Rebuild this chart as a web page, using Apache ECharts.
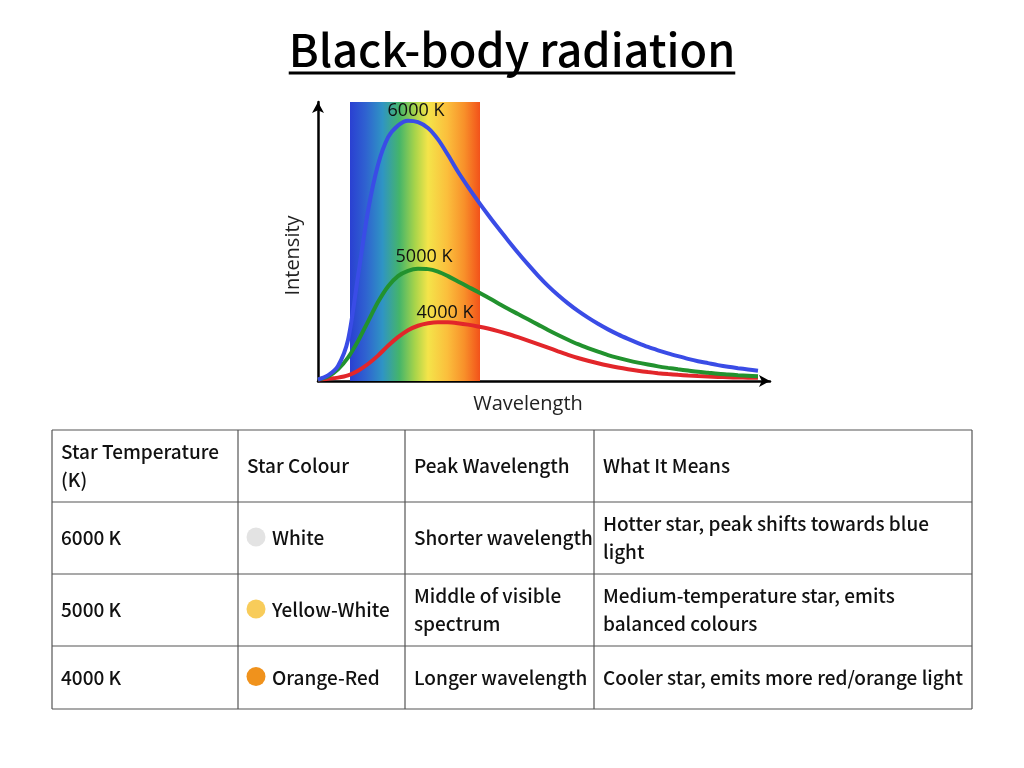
<!DOCTYPE html>
<html><head><meta charset="utf-8">
<script src="https://cdn.jsdelivr.net/npm/echarts@6/dist/echarts.min.js"></script>
<style>html,body{margin:0;padding:0;background:#fff}#c{width:1024px;height:768px}</style>
</head><body><div id="c"></div>
<script>
// ---------- data ----------
const titleText = 'Black-body radiation';
const wavelength = [270,300,330,360,390,420,450,480,510,540,570,600,630,660,690,720,750,780,810,840,870,900,930,960,990,1020,1050,1080,1110,1140,1170,1200,1230,1260,1290,1320,1350,1380,1410,1440,1470,1500,1530,1560,1590];
const intensity6000 = [0.5,2.0,5.4,14.7,37.6,61.0,77.5,87.3,91.6,93.3,92.8,90.7,86.6,81.0,75.0,69.6,64.5,59.6,54.9,50.4,46.0,41.8,37.8,34.1,30.8,27.8,25.1,22.7,20.5,18.5,16.7,15.1,13.6,12.2,11.0,9.9,8.9,7.95,7.1,6.4,5.7,5.1,4.6,4.15,3.7];
const intensity5000 = [0.5,1.6,4.2,8.4,14.3,21.3,28.3,33.9,37.6,39.5,40.2,40.1,39.2,37.6,35.7,33.8,31.9,29.9,27.9,25.9,24.0,22.1,20.2,18.3,16.5,14.8,13.2,11.8,10.5,9.3,8.3,7.4,6.6,5.9,5.25,4.7,4.2,3.75,3.3,2.95,2.6,2.35,2.1,1.9,1.7];
const intensity4000 = [0.5,0.8,1.2,2.0,3.7,6.1,9.1,12.6,15.7,18.2,19.8,20.7,21.1,21.05,20.7,20.2,19.55,18.8,17.9,16.85,15.7,14.5,13.25,11.95,10.65,9.4,8.25,7.25,6.35,5.55,4.85,4.23,3.68,3.21,2.81,2.48,2.2,1.96,1.76,1.59,1.45,1.34,1.25,1.18,1.13];
const curveNames = ['6000 K','5000 K','4000 K'];
const curveLabelAt = [[564,96.8],[588,44.5],[651,24.4]];
const visibleBand = [366, 756];

const tableHeaders = ['Star Temperature\n(K)','Star Colour','Peak Wavelength','What It Means'];
const starTemps = ['6000 K','5000 K','4000 K'];
const starColourNames = ['White','Yellow-White','Orange-Red'];
const starColourSwatches = ['#e3e3e3','#f8cc5a','#f0921c'];
const peakWavelengths = ['Shorter wavelength','Middle of visible\nspectrum','Longer wavelength'];
const meanings = ['Hotter star, peak shifts towards blue\nlight','Medium-temperature star, emits\nbalanced colours','Cooler star, emits more red/orange light'];

// ---------- layout ----------
const chart = echarts.init(document.getElementById('c'), null, {renderer:'canvas'});
const TFONT = '"Noto Sans CJK JP", "Noto Sans", sans-serif';
const AFONT = '"Open Sans", "Noto Sans", sans-serif';
const colX = [52,238,405,594,972];
const rowY = [430,502,574,646,709];
const pad = 9;
const TITLE_SIZE = 45;

function mk(vals){ return wavelength.map((w,i)=>[w, vals[i]]); }

const graphics = [];
// title underline
const cv = document.createElement('canvas').getContext('2d');
cv.font = '500 ' + TITLE_SIZE + 'px "Noto Sans CJK JP"';
const tw = cv.measureText(titleText).width;
graphics.push({type:'line', shape:{x1:512-tw/2, y1:73, x2:512+tw/2, y2:73}, style:{stroke:'#000', lineWidth:3}, z:10});

// table borders
for (let r=0;r<rowY.length;r++) graphics.push({type:'line', shape:{x1:colX[0],y1:rowY[r],x2:colX[colX.length-1],y2:rowY[r]}, style:{stroke:'#555',lineWidth:1.2}});
for (let c=0;c<colX.length;c++) graphics.push({type:'line', shape:{x1:colX[c],y1:rowY[0],x2:colX[c],y2:rowY[rowY.length-1]}, style:{stroke:'#555',lineWidth:1.2}});

function cellText(txt, col, row, dx){
  const cy = (rowY[row]+rowY[row+1])/2;
  graphics.push({type:'text', x: colX[col]+pad+(dx||0), y: cy, style:{text: txt, font:'500 19px '+TFONT, fill:'#111', verticalAlign:'middle', align:'left', lineHeight:28}});
}
tableHeaders.forEach((h,c)=>cellText(h,c,0));
for (let i=0;i<starTemps.length;i++){
  const row=i+1;
  cellText(starTemps[i],0,row);
  const cy=(rowY[row]+rowY[row+1])/2;
  graphics.push({type:'circle', shape:{cx:colX[1]+18, cy:cy-1, r:9.5}, style:{fill:starColourSwatches[i]}});
  cellText(starColourNames[i],1,row,25);
  cellText(peakWavelengths[i],2,row);
  cellText(meanings[i],3,row);
}

const bandGradient = new echarts.graphic.LinearGradient(0,0,1,0,[
  {offset:0, color:'#2a40d2'},
  {offset:0.12, color:'#2f62d0'},
  {offset:0.25, color:'#2f94c4'},
  {offset:0.38, color:'#45b56a'},
  {offset:0.5, color:'#a8d44a'},
  {offset:0.6, color:'#f4e44a'},
  {offset:0.75, color:'#fbbe3c'},
  {offset:0.88, color:'#f8902a'},
  {offset:1, color:'#f2521a'}
]);

const colors = ['#3a4ce6','#22922e','#e2262a'];
const seriesData = [intensity6000,intensity5000,intensity4000];
const series = seriesData.map((vals,i)=>({
  type:'line', name:curveNames[i], data:mk(vals), smooth:0.3, showSymbol:false, symbol:'none',
  lineStyle:{color:colors[i], width:4}, z: 5-i,
  markPoint:{symbol:'circle', symbolSize:0, data:[{coord:curveLabelAt[i], value:curveNames[i]}],
    label:{show:true, position:'inside', formatter:curveNames[i], color:'#111', fontSize:18, fontFamily:AFONT}},
  markArea: i===0 ? {silent:true, itemStyle:{color:bandGradient, opacity:1}, data:[[{xAxis:visibleBand[0]},{xAxis:visibleBand[1]}]]} : undefined
}));

chart.setOption({
  backgroundColor:'#fff',
  animation:false,
  title:{text:titleText, left:'center', top:22, textStyle:{fontSize:TITLE_SIZE, fontWeight:500, color:'#000', fontFamily:TFONT}},
  grid:{left:318, right:254, top:102, bottom:387},
  xAxis:{type:'value', min:270, max:1626, name:'Wavelength', nameLocation:'middle', nameGap:13,
    nameTextStyle:{fontSize:20, color:'#222', fontFamily:AFONT, padding:[0,32,0,0]},
    axisLine:{show:true, symbol:['none','arrow'], symbolSize:[9,11], lineStyle:{color:'#000', width:2.5}},
    axisTick:{show:false}, axisLabel:{show:false}, splitLine:{show:false}},
  yAxis:{type:'value', min:0, max:100, name:'Intensity', nameLocation:'middle', nameGap:15,
    nameTextStyle:{fontSize:20, color:'#222', fontFamily:AFONT, padding:[0,28,0,0]},
    axisLine:{show:true, symbol:['none','arrow'], symbolSize:[9,11], lineStyle:{color:'#000', width:2.5}},
    axisTick:{show:false}, axisLabel:{show:false}, splitLine:{show:false}},
  series: series,
  graphic: graphics
});
</script></body></html>
